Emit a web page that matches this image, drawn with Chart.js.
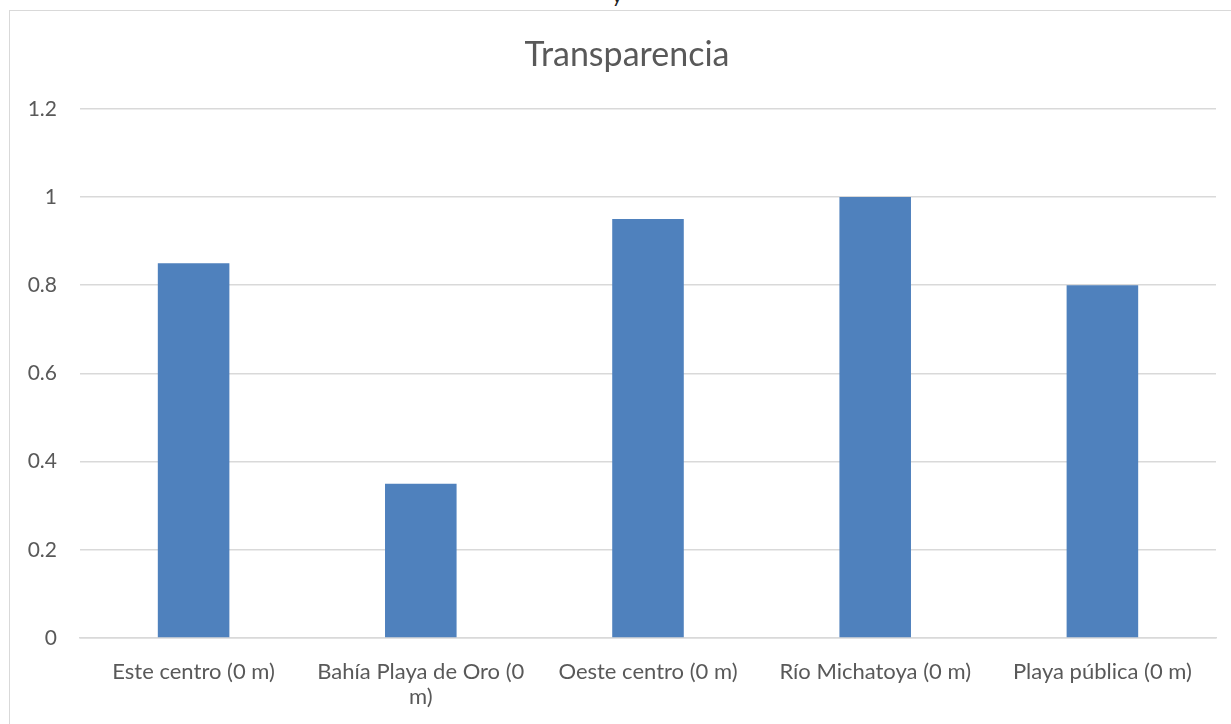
<!DOCTYPE html>
<html>
<head>
<meta charset="utf-8">
<script src="https://cdn.jsdelivr.net/npm/chart.js@4.4.1/dist/chart.umd.min.js"></script>
<style>
  html, body { margin: 0; padding: 0; background: #ffffff; overflow: hidden; width: 1231px; height: 724px; }
  #frame { position: absolute; left: 9px; top: 10px; width: 1234px; height: 730px; border: 1px solid #d9d9d9; background: #fff; }
  #chart { display: block; }
  #cut { position: absolute; left: 612px; top: -17px; font: 20px Lato, sans-serif; color: #222; }
</style>
</head>
<body>
<div id="cut">y</div>
<div id="frame"><canvas id="chart" width="1234" height="730"></canvas></div>
<script>
const chartTitle = 'Transparencia';
const categories = [
  'Este centro (0 m)',
  ['Bahía Playa de Oro (0', 'm)'],
  'Oeste centro (0 m)',
  'Río Michatoya (0 m)',
  'Playa pública (0 m)'
];
const transparencia = [0.85, 0.35, 0.95, 1.0, 0.8];
const yTickLabels = ['0', '0.2', '0.4', '0.6', '0.8', '1', '1.2'];

const textColor = '#595959';
const gridColor = '#d9d9d9';
const font = 'Lato, "Open Sans", sans-serif';

// Centre the title over the full chart width (not just the padded box)
const titleFullWidth = {
  id: 'titleFullWidth',
  afterLayout(chart) {
    if (chart.titleBlock) {
      chart.titleBlock.left = 0;
      chart.titleBlock.right = chart.width;
    }
  }
};

new Chart(document.getElementById('chart'), {
  type: 'bar',
  data: {
    labels: categories,
    datasets: [{
      label: chartTitle,
      data: transparencia,
      backgroundColor: '#4f81bd',
      borderWidth: 0,
      barPercentage: 0.315,
      categoryPercentage: 1.0
    }]
  },
  plugins: [titleFullWidth],
  options: {
    responsive: false,
    animation: false,
    devicePixelRatio: 1,
    layout: { padding: { left: 0, right: 28, top: 0, bottom: 0 } },
    plugins: {
      legend: { display: false },
      tooltip: { enabled: false },
      title: {
        display: true,
        text: chartTitle,
        color: textColor,
        font: { family: font, size: 34, weight: 'normal', lineHeight: 1.2 },
        padding: { top: 24, bottom: 33 }
      }
    },
    scales: {
      x: {
        grid: { display: false, drawTicks: false },
        border: { display: true, color: gridColor, width: 1.5 },
        ticks: {
          color: textColor,
          font: { family: font, size: 22, lineHeight: 1.14 },
          padding: 21,
          maxRotation: 0,
          autoSkip: false
        },
        afterFit: (s) => { s.height = 103; }
      },
      y: {
        min: 0,
        max: 1.2,
        grid: { color: gridColor, lineWidth: 1.5, drawTicks: false },
        border: { display: false },
        ticks: {
          stepSize: 0.2,
          color: textColor,
          font: { family: font, size: 21 },
          padding: 23,
          callback: (v, i) => yTickLabels[i]
        },
        afterFit: (s) => { s.width = 70; }
      }
    }
  }
});
</script>
</body>
</html>
